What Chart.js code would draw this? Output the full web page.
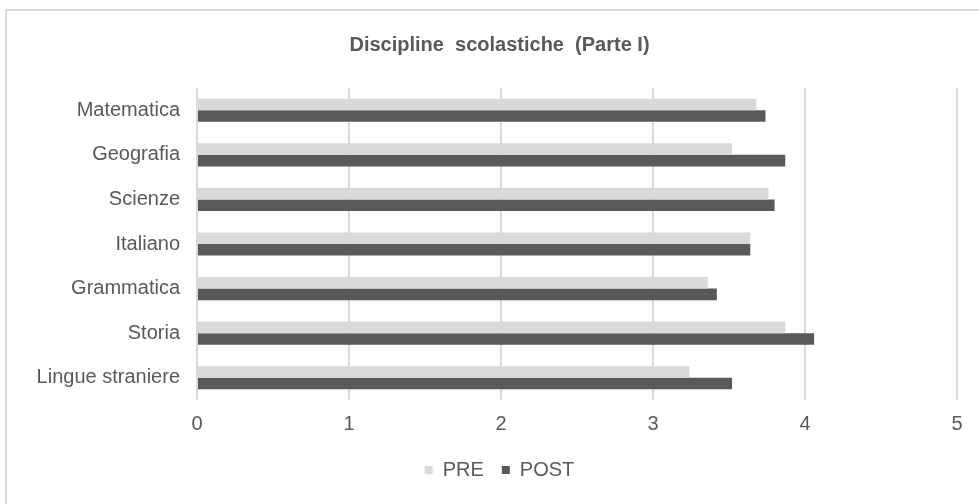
<!DOCTYPE html>
<html>
<head>
<meta charset="utf-8">
<script src="https://cdn.jsdelivr.net/npm/chart.js@4/dist/chart.umd.min.js"></script>
<style>
  html, body { margin: 0; padding: 0; background: #ffffff; }
  #frame { position: absolute; left: 0; top: 0; width: 979px; height: 504px; overflow: hidden; }
  #box { position: absolute; left: 5px; top: 9px; width: 1000px; height: 520px;
         border: 2px solid #d9d9d9; box-sizing: border-box; }
  #c { position: absolute; left: 0; top: 0; }
</style>
</head>
<body>
<div id="frame">
  <div id="box"></div>
  <canvas id="c" width="979" height="504"></canvas>
</div>
<script>
// Subjects, top to bottom
const categories = ['Matematica', 'Geografia', 'Scienze', 'Italiano', 'Grammatica', 'Storia', 'Lingue straniere'];
// Mean scores before and after
const preValues  = [3.68, 3.52, 3.76, 3.64, 3.36, 3.87, 3.24];
const postValues = [3.74, 3.87, 3.80, 3.64, 3.42, 4.06, 3.52];
// Value axis ticks
const xTicks = [0, 1, 2, 3, 4, 5];

const FONT = '"Liberation Sans", Arial, Helvetica, sans-serif';
const TEXT = '#595959';
const PAD_LEFT = 42;

// Let the category labels use the whole left margin instead of being clipped
const wideLabels = {
  id: 'wideLabels',
  afterLayout(chart) { chart.scales.y.left = 0; }
};

new Chart(document.getElementById('c'), {
  type: 'bar',
  data: {
    labels: categories,
    datasets: [
      { label: 'PRE',  data: preValues,  backgroundColor: '#d9d9d9', borderWidth: 0 },
      { label: 'POST', data: postValues, backgroundColor: '#595959', borderWidth: 0 }
    ]
  },
  plugins: [wideLabels],
  options: {
    indexAxis: 'y',
    responsive: false,
    animation: false,
    devicePixelRatio: 1,
    categoryPercentage: 0.52,
    barPercentage: 1.0,
    layout: { padding: { left: PAD_LEFT, right: 22, top: 0, bottom: 14 } },
    plugins: {
      title: {
        display: true,
        text: 'Discipline  scolastiche  (Parte I)',
        color: TEXT,
        font: { family: FONT, size: 20, weight: 'bold', lineHeight: 1.2 },
        padding: { top: 33, bottom: 31 }
      },
      legend: {
        display: true,
        position: 'bottom',
        labels: {
          color: TEXT,
          font: { family: FONT, size: 20 },
          boxWidth: 8,
          boxHeight: 8,
          padding: 18
        }
      },
      tooltip: { enabled: false }
    },
    scales: {
      x: {
        type: 'linear',
        min: xTicks[0],
        max: xTicks[xTicks.length - 1],
        afterBuildTicks: (s) => { s.ticks = xTicks.map(v => ({ value: v })); },
        grid: { color: '#d9d9d9', lineWidth: 2, drawTicks: false },
        border: { display: false },
        ticks: { color: TEXT, font: { family: FONT, size: 20 }, padding: 12 },
        afterFit: (s) => { s.height = 42; }
      },
      y: {
        grid: { display: false, drawTicks: false },
        border: { display: false },
        ticks: { color: TEXT, font: { family: FONT, size: 20 }, padding: 17 },
        afterFit: (s) => { s.width = 197 - PAD_LEFT; }
      }
    }
  }
});
</script>
</body>
</html>
